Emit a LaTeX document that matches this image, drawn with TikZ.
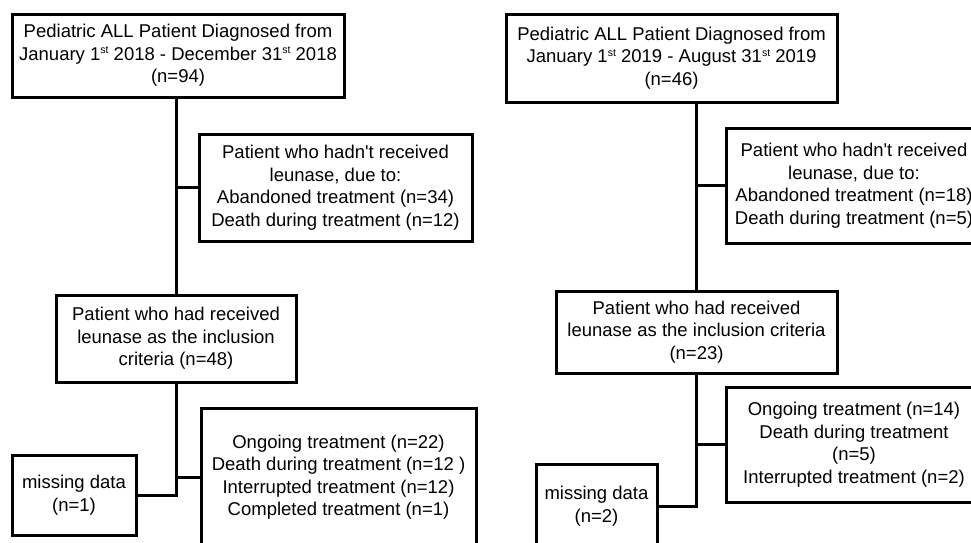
\documentclass[tikz,border=0pt]{standalone}
\usepackage{fontspec}
\setmainfont{Liberation Sans}
\newcommand{\ordsup}[1]{\raisebox{6.5pt}{\fontsize{10.5}{10.5}\selectfont #1}}
\begin{document}
\begin{tikzpicture}[x=1pt,y=-1pt,
  box/.style={draw, line width=3pt, inner sep=0pt, align=center, font=\fontsize{18.5}{22.5}\selectfont},
  link/.style={line width=3pt}]
\useasboundingbox (0,0) rectangle (971,542);
\clip (0,0) rectangle (971,542);
% left flow
\node[box, minimum width=332pt, minimum height=83pt] (A1) at (178,55.5)
  {Pediatric ALL Patient Diagnosed from\\January 1\ordsup{st} 2018 - December 31\ordsup{st} 2018\\(n=94)};
\node[box, minimum width=273pt, minimum height=107pt] (C1) at (335.5,187.5)
  {Patient who hadn\textquotesingle t received\\leunase, due to:\hspace*{32pt}\\Abandoned treatment (n=34)\\Death during treatment (n=12)};
\node[box, minimum width=240pt, minimum height=87pt] (B1) at (176,338.5)
  {Patient who had received\\leunase as the inclusion\\criteria (n=48)};
\node[box, minimum width=124pt, minimum height=80pt] (M1) at (74,495)
  {missing data\\(n=1)};
\node[box, minimum width=275pt, minimum height=138pt] (D1) at (338.5,477)
  {Ongoing treatment (n=22)\\Death during treatment (n=12 )\\Interrupted treatment (n=12)\\Completed treatment (n=1)};
% right flow
\node[box, minimum width=331pt, minimum height=88pt] (A2) at (671.5,58)
  {Pediatric ALL Patient Diagnosed from\\January 1\ordsup{st} 2019 - August 31\ordsup{st} 2019\\(n=46)};
\node[box, minimum width=256pt, minimum height=115pt] (C2) at (854,185.5)
  {Patient who hadn\textquotesingle t received\\leunase, due to:\hspace*{88pt}\\Abandoned treatment (n=18)\\Death during treatment (n=5)};
\node[box, minimum width=281pt, minimum height=82pt] (B2) at (696.5,332)
  {Patient who had received\\leunase as the inclusion criteria\\(n=23)};
\node[box, minimum width=256pt, minimum height=115pt] (D2) at (854,444.5)
  {Ongoing treatment (n=14)\\Death during treatment\\(n=5)\\Interrupted treatment (n=2)};
\node[box, minimum width=121pt, minimum height=84pt] (M2) at (596.5,506)
  {missing data\\(n=2)};
% connectors
\draw[link] (A1.south -| B1.north) -- (B1.north);
\draw[link] (C1.west) -- (C1.west -| B1.north);
\draw[link] (B1.south) |- (M1.east);
\draw[link] (D1.west) -- (D1.west -| B1.south);
\draw[link] (A2.south -| B2.north) -- (B2.north);
\draw[link] (C2.west) -- (C2.west -| B2.north);
\draw[link] (B2.south) |- (M2.east);
\draw[link] (D2.west) -- (D2.west -| B2.south);
\end{tikzpicture}
\end{document}
